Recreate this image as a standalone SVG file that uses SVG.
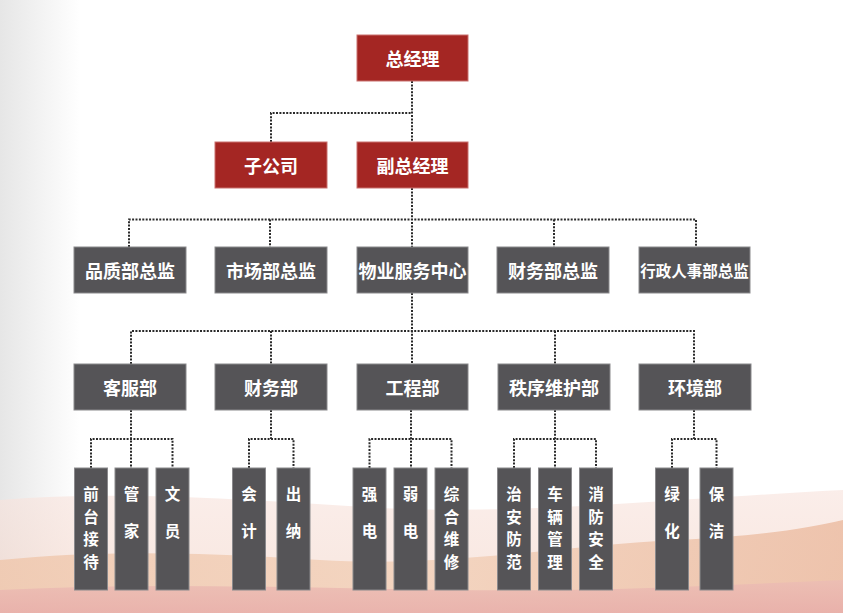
<svg xmlns="http://www.w3.org/2000/svg" width="843" height="613" viewBox="0 0 843 613">
<style>
.red{fill:#A42623;stroke:#C9716E;stroke-width:1}
.gray{fill:#555457;stroke:#8a898c;stroke-width:1}
.t{fill:#ffffff;font-family:"Noto Sans CJK SC","Noto Sans",sans-serif;font-weight:bold;font-size:18px;text-anchor:middle;dominant-baseline:central}
.lt{fill:#ffffff;font-family:"Noto Sans CJK SC","Noto Sans",sans-serif;font-weight:bold;font-size:15.5px;text-anchor:middle;dominant-baseline:central}
.c{fill:none;stroke:#2a2a2a;stroke-width:2;stroke-dasharray:2 1.4}
</style>
<defs>
<linearGradient id="lg" x1="0" y1="0" x2="1" y2="0">
<stop offset="0" stop-color="#e6e6e6"/>
<stop offset="1" stop-color="#ffffff"/>
</linearGradient>
<linearGradient id="bg1" x1="0" y1="0" x2="0" y2="1">
<stop offset="0" stop-color="#f8e4de"/>
<stop offset="1" stop-color="#f4d8cc"/>
</linearGradient>
<linearGradient id="bg2" x1="0" y1="0" x2="1" y2="0">
<stop offset="0" stop-color="#efc6ab"/>
<stop offset="0.5" stop-color="#f2d0b8"/>
<stop offset="1" stop-color="#ebba9f"/>
</linearGradient>
<linearGradient id="bg3" x1="0" y1="0" x2="0" y2="1">
<stop offset="0" stop-color="#ecbdb4"/>
<stop offset="1" stop-color="#e8aeaa"/>
</linearGradient>
</defs>
<g id="background">
<rect x="0" y="0" width="843" height="613" fill="#ffffff"/>
<rect x="0" y="0" width="80" height="613" fill="url(#lg)"/>
<path d="M0,500 C120,490 250,500 380,508 C520,515 650,500 843,490 L843,613 L0,613 Z" fill="url(#bg1)" opacity="0.65"/>
<path d="M0,560 C100,550 200,552 320,560 C450,568 560,545 680,540 C760,536 810,528 843,520 L843,613 L0,613 Z" fill="url(#bg2)" opacity="0.8"/>
<path d="M0,590 C150,582 300,588 450,590 C600,592 720,585 843,580 L843,613 L0,613 Z" fill="url(#bg3)" opacity="0.85"/>
</g>
<g id="connectors">
<path class="c" d="M412,81 V142 M271,142 V113 H412"/>
<path class="c" d="M412,188 V247 M129,247 V219.5 H696 V247 M270,219.5 V247 M554,219.5 V247"/>
<path class="c" d="M412,293 V364 M131,364 V331 H694 V364 M271,331 V364 M555,331 V364"/>
<path class="c" d="M131,410 V468 M91,468 V439 H172.5 V468"/>
<path class="c" d="M271,410 V439 M249,468 V439 H293.5 V468"/>
<path class="c" d="M411,410 V468 M369.5,468 V439 H451.5 V468"/>
<path class="c" d="M555,410 V468 M514,468 V439 H596 V468"/>
<path class="c" d="M694,410 V439 M672,468 V439 H716.5 V468"/>
</g>
<g id="n-zongjingli"><rect class="red" x="357" y="35" width="111" height="46"/><text class="t" x="412.5" y="58">总经理</text></g>
<g id="n-zigongsi"><rect class="red" x="215" y="142" width="112" height="46"/><text class="t" x="271" y="165">子公司</text></g>
<g id="n-fuzongjingli"><rect class="red" x="357" y="142" width="111" height="46"/><text class="t" x="412.5" y="165">副总经理</text></g>

<g id="n-pinzhi"><rect class="gray" x="74" y="247" width="112" height="46"/><text class="t" x="130" y="270">品质部总监</text></g>
<g id="n-shichang"><rect class="gray" x="215" y="247" width="112" height="46"/><text class="t" x="271" y="270">市场部总监</text></g>
<g id="n-wuye"><rect class="gray" x="357" y="247" width="111" height="46"/><text class="t" x="412.5" y="270">物业服务中心</text></g>
<g id="n-caiwuzongjian"><rect class="gray" x="497" y="247" width="112" height="46"/><text class="t" x="553" y="270">财务部总监</text></g>
<g id="n-xingzheng"><rect class="gray" x="639" y="247" width="111" height="46"/><text class="t" x="694.5" y="270" style="font-size:15.5px">行政人事部总监</text></g>

<g id="n-kefu"><rect class="gray" x="74" y="364" width="112" height="46"/><text class="t" x="130" y="387">客服部</text></g>
<g id="n-caiwu"><rect class="gray" x="215" y="364" width="112" height="46"/><text class="t" x="271" y="387">财务部</text></g>
<g id="n-gongcheng"><rect class="gray" x="357" y="364" width="111" height="46"/><text class="t" x="412.5" y="387">工程部</text></g>
<g id="n-zhixu"><rect class="gray" x="498" y="364" width="112" height="46"/><text class="t" x="554" y="387">秩序维护部</text></g>
<g id="n-huanjing"><rect class="gray" x="639" y="364" width="112" height="46"/><text class="t" x="695" y="387">环境部</text></g>

<g id="l-qiantai"><rect class="gray" x="74.5" y="468" width="33" height="122"/><text class="lt" x="91"><tspan x="91" y="493">前</tspan><tspan x="91" y="515.5">台</tspan><tspan x="91" y="538">接</tspan><tspan x="91" y="560.5">待</tspan></text></g>
<g id="l-guanjia"><rect class="gray" x="115" y="468" width="33" height="122"/><text class="lt"><tspan x="131.5" y="493">管</tspan><tspan x="131.5" y="530">家</tspan></text></g>
<g id="l-wenyuan"><rect class="gray" x="156" y="468" width="33" height="122"/><text class="lt"><tspan x="172.5" y="493">文</tspan><tspan x="172.5" y="530">员</tspan></text></g>
<g id="l-kuaiji"><rect class="gray" x="232.5" y="468" width="33" height="122"/><text class="lt"><tspan x="249" y="493">会</tspan><tspan x="249" y="530">计</tspan></text></g>
<g id="l-chuna"><rect class="gray" x="277" y="468" width="33" height="122"/><text class="lt"><tspan x="293.5" y="493">出</tspan><tspan x="293.5" y="530">纳</tspan></text></g>
<g id="l-qiangdian"><rect class="gray" x="353" y="468" width="33" height="122"/><text class="lt"><tspan x="369.5" y="493">强</tspan><tspan x="369.5" y="530">电</tspan></text></g>
<g id="l-ruodian"><rect class="gray" x="394" y="468" width="33" height="122"/><text class="lt"><tspan x="410.5" y="493">弱</tspan><tspan x="410.5" y="530">电</tspan></text></g>
<g id="l-zonghe"><rect class="gray" x="435" y="468" width="33" height="122"/><text class="lt"><tspan x="451.5" y="493">综</tspan><tspan x="451.5" y="515.5">合</tspan><tspan x="451.5" y="538">维</tspan><tspan x="451.5" y="560.5">修</tspan></text></g>
<g id="l-zhian"><rect class="gray" x="497.5" y="468" width="33" height="122"/><text class="lt"><tspan x="514" y="493">治</tspan><tspan x="514" y="515.5">安</tspan><tspan x="514" y="538">防</tspan><tspan x="514" y="560.5">范</tspan></text></g>
<g id="l-cheliang"><rect class="gray" x="538.5" y="468" width="33" height="122"/><text class="lt"><tspan x="555" y="493">车</tspan><tspan x="555" y="515.5">辆</tspan><tspan x="555" y="538">管</tspan><tspan x="555" y="560.5">理</tspan></text></g>
<g id="l-xiaofang"><rect class="gray" x="579.5" y="468" width="33" height="122"/><text class="lt"><tspan x="596" y="493">消</tspan><tspan x="596" y="515.5">防</tspan><tspan x="596" y="538">安</tspan><tspan x="596" y="560.5">全</tspan></text></g>
<g id="l-lvhua"><rect class="gray" x="655.5" y="468" width="33" height="122"/><text class="lt"><tspan x="672" y="493">绿</tspan><tspan x="672" y="530">化</tspan></text></g>
<g id="l-baojie"><rect class="gray" x="700" y="468" width="33" height="122"/><text class="lt"><tspan x="716.5" y="493">保</tspan><tspan x="716.5" y="530">洁</tspan></text></g>
</svg>
